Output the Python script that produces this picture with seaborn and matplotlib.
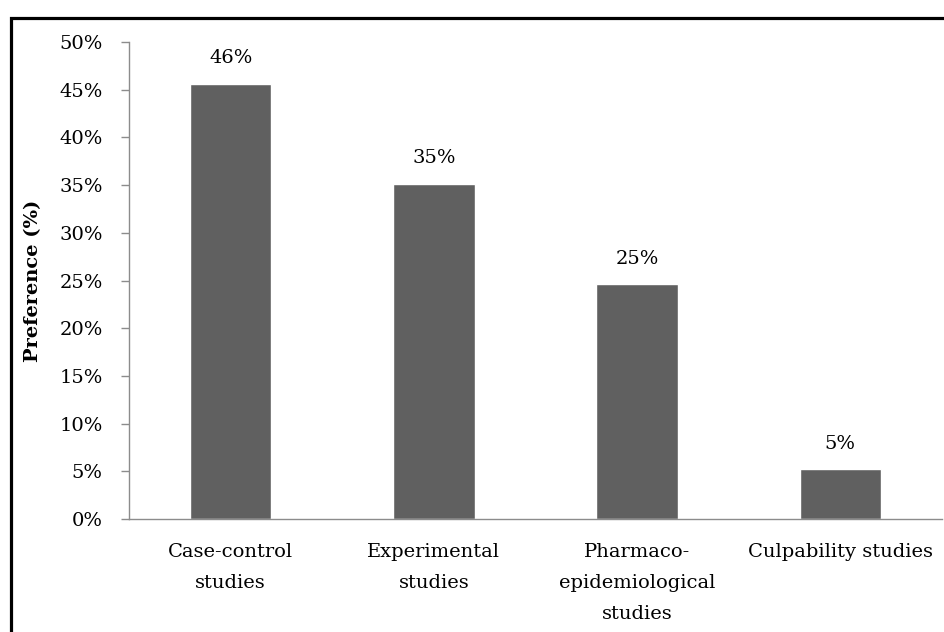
import matplotlib
matplotlib.use("Agg")
import matplotlib.pyplot as plt
from matplotlib.patches import Rectangle
from matplotlib.ticker import FixedLocator, PercentFormatter
import seaborn as sns
import pandas as pd

categories = ["Case-control\nstudies", "Experimental\nstudies",
              "Pharmaco-\nepidemiological\nstudies", "Culpability studies"]
preference = [45.6, 35.1, 24.6, 5.2]
y_ticks = [0, 5, 10, 15, 20, 25, 30, 35, 40, 45, 50]

df = pd.DataFrame({"category": categories, "preference": preference})

sns.set_style("white")
plt.rcParams["font.family"] = ["DejaVu Serif", "Liberation Serif"]
plt.rcParams["text.color"] = "black"
plt.rcParams["xtick.labelcolor"] = "black"
plt.rcParams["ytick.labelcolor"] = "black"
plt.rcParams["axes.labelcolor"] = "black"
FS = 14

fig = plt.figure(figsize=(9.44, 6.32), dpi=100)
ax = fig.add_axes([129 / 944, 1 - 519 / 632, (942 - 129) / 944, (519 - 42) / 632])

sns.barplot(data=df, x="category", y="preference", color="#606060",
            saturation=1, width=0.4, ax=ax)

ax.set_ylim(0, 50)
ax.set_xlim(-0.5, len(categories) - 0.5)
ax.yaxis.set_major_locator(FixedLocator(y_ticks))
ax.yaxis.set_major_formatter(PercentFormatter(decimals=0))

# category boundaries carry the tick marks, labels sit at bar centres
ax.set_xticks(range(len(categories)))
ax.set_xticklabels(categories, linespacing=1.95, fontsize=FS, color="black")
ax.xaxis.set_minor_locator(FixedLocator([i - 0.5 for i in range(len(categories) + 1)]))
ax.tick_params(axis="x", which="major", length=0, pad=17)
ax.tick_params(axis="x", which="minor", length=6, width=1, color="#8c8c8c", direction="out")
ax.tick_params(axis="y", length=6, width=1, color="#8c8c8c", direction="out",
               pad=13, labelsize=FS, labelcolor="black", left=True)

for side in ("top", "right"):
    ax.spines[side].set_visible(False)
for side in ("left", "bottom"):
    ax.spines[side].set_color("#8c8c8c")
    ax.spines[side].set_linewidth(1)

ax.set_xlabel("")
ax.set_ylabel("Preference (%)", fontsize=FS, fontweight="bold", labelpad=12, color="black")

for i, v in enumerate(preference):
    ax.annotate(f"{round(v):d}%", xy=(i, v), xytext=(0, 12), textcoords="offset points",
                ha="center", va="bottom", fontsize=FS, color="black")

fig.patches.append(Rectangle((11 / 944, -0.2), 1.2, 1 - 18 / 632 + 0.2,
                             transform=fig.transFigure, fill=False,
                             edgecolor="black", linewidth=2.3, clip_on=False))

fig.savefig("out.png", dpi=100)
